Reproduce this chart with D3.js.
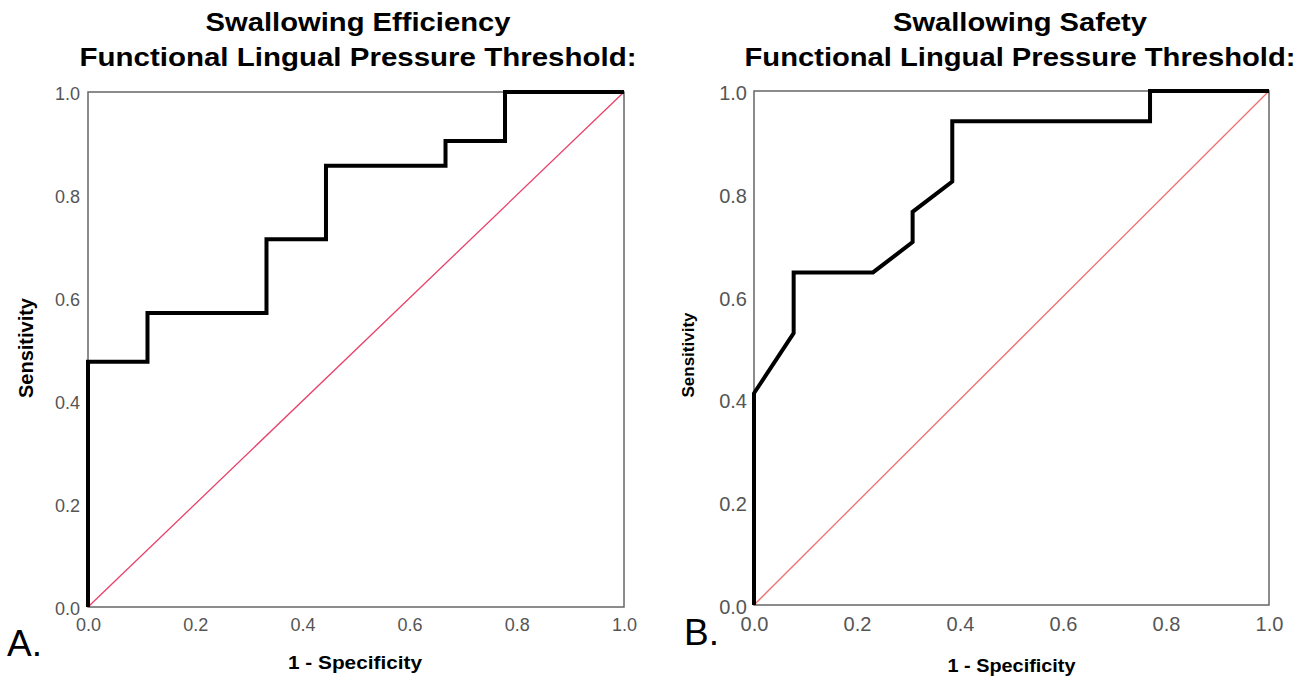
<!DOCTYPE html>
<html>
<head>
<meta charset="utf-8">
<script src="https://cdn.jsdelivr.net/npm/d3@7"></script>
<style>
  body { margin: 0; background: #fff; }
  text { font-family: "Liberation Sans", Arial, sans-serif; }
</style>
</head>
<body>
<svg id="chart" width="1313" height="681"></svg>
<script>
// panel A: swallowing efficiency (step ROC)
var effX = [0, 0, 0.111, 0.111, 0.333, 0.333, 0.444, 0.444, 0.667, 0.667, 0.778, 0.778, 1.0];
var effY = [0, 0.476, 0.476, 0.571, 0.571, 0.714, 0.714, 0.857, 0.857, 0.905, 0.905, 1.0, 1.0];

// panel B: swallowing safety
var safX = [0, 0, 0.077, 0.077, 0.231, 0.308, 0.308, 0.385, 0.385, 0.769, 0.769, 1.0];
var safY = [0, 0.412, 0.529, 0.647, 0.647, 0.706, 0.765, 0.824, 0.941, 0.941, 1.0, 1.0];

var ticks = [0, 0.2, 0.4, 0.6, 0.8, 1.0];
var refLine = [0, 1];

var svg = d3.select('#chart');

// text squeezed/stretched to a measured width
function fitText(sel, w) {
  return sel.attr('textLength', w).attr('lengthAdjust', 'spacingAndGlyphs');
}

function rocPanel(o) {
  var g = svg.append('g');
  var x = d3.scaleLinear().domain([0, 1]).range([o.left, o.right]);
  var y = d3.scaleLinear().domain([0, 1]).range([o.bottom, o.top]);
  var cx = (o.left + o.right) / 2;

  // titles
  fitText(g.append('text')
    .attr('x', o.titleX).attr('y', 31)
    .attr('text-anchor', 'middle')
    .attr('font-size', 26).attr('font-weight', 'bold')
    .text(o.title1), o.t1w);
  fitText(g.append('text')
    .attr('x', o.titleX).attr('y', 66)
    .attr('text-anchor', 'middle')
    .attr('font-size', 26).attr('font-weight', 'bold')
    .text(o.title2), o.t2w);

  // axes (labels only, frame drawn separately)
  var xa = g.append('g')
    .attr('transform', 'translate(0,' + o.bottom + ')')
    .call(d3.axisBottom(x).tickValues(ticks).tickSize(0).tickPadding(o.xPad).tickFormat(d3.format('.1f')));
  var ya = g.append('g')
    .attr('transform', 'translate(' + o.left + ',2)')
    .call(d3.axisLeft(y).tickValues(ticks).tickSize(0).tickPadding(o.yPad).tickFormat(d3.format('.1f')));
  [xa, ya].forEach(function(a) {
    a.select('.domain').remove();
    a.selectAll('text')
      .attr('font-family', '"Liberation Sans", Arial, sans-serif')
      .attr('font-size', o.tickSize)
      .attr('fill', '#555');
  });

  // frame
  g.append('rect')
    .attr('x', o.left).attr('y', o.top)
    .attr('width', o.right - o.left).attr('height', o.bottom - o.top)
    .attr('fill', 'none').attr('stroke', '#666').attr('stroke-width', 1.5);

  // reference diagonal
  g.append('path')
    .datum(refLine)
    .attr('d', d3.line().x(function(d) { return x(d); }).y(function(d) { return y(d); }))
    .attr('fill', 'none').attr('stroke', o.refColor).attr('stroke-width', 1.3);

  // ROC curve
  g.append('path')
    .datum(d3.range(o.xs.length))
    .attr('d', d3.line().x(function(i) { return x(o.xs[i]); }).y(function(i) { return y(o.ys[i]); }))
    .attr('fill', 'none').attr('stroke', '#000').attr('stroke-width', 4)
    .attr('stroke-linejoin', 'miter');

  // axis titles
  fitText(g.append('text')
    .attr('x', cx + o.xTitleDx).attr('y', o.xTitleY)
    .attr('text-anchor', 'middle')
    .attr('font-size', 19).attr('font-weight', 'bold')
    .text('1 - Specificity'), o.xTitleW);
  fitText(g.append('text')
    .attr('transform', 'translate(' + o.yTitleX + ',' + o.yTitleY + ') rotate(-90)')
    .attr('text-anchor', 'middle')
    .attr('font-size', o.yTitleSize).attr('font-weight', 'bold')
    .text('Sensitivity'), o.yTitleW);

  // panel letter
  g.append('text')
    .attr('x', o.letterX).attr('y', o.letterY)
    .attr('font-size', 37)
    .text(o.letter);
}

rocPanel({
  left: 88, right: 624, top: 92, bottom: 607,
  xs: effX, ys: effY,
  title1: 'Swallowing Efficiency', title2: 'Functional Lingual Pressure Threshold:',
  titleX: 358, t1w: 305, t2w: 557,
  tickSize: 18, xPad: 11, yPad: 8,
  refColor: '#e8416a',
  xTitleDx: -1, xTitleY: 669, xTitleW: 134,
  yTitleX: 33, yTitleY: 348, yTitleSize: 20, yTitleW: 100,
  letter: 'A.', letterX: 7, letterY: 656
});

rocPanel({
  left: 754, right: 1269, top: 91, bottom: 605,
  xs: safX, ys: safY,
  title1: 'Swallowing Safety', title2: 'Functional Lingual Pressure Threshold:',
  titleX: 1020, t1w: 254, t2w: 551,
  tickSize: 20, xPad: 12, yPad: 7,
  refColor: '#f07070',
  xTitleDx: 0, xTitleY: 672, xTitleW: 128,
  yTitleX: 694, yTitleY: 355, yTitleSize: 17, yTitleW: 85,
  letter: 'B.', letterX: 684, letterY: 645
});
</script>
</body>
</html>
